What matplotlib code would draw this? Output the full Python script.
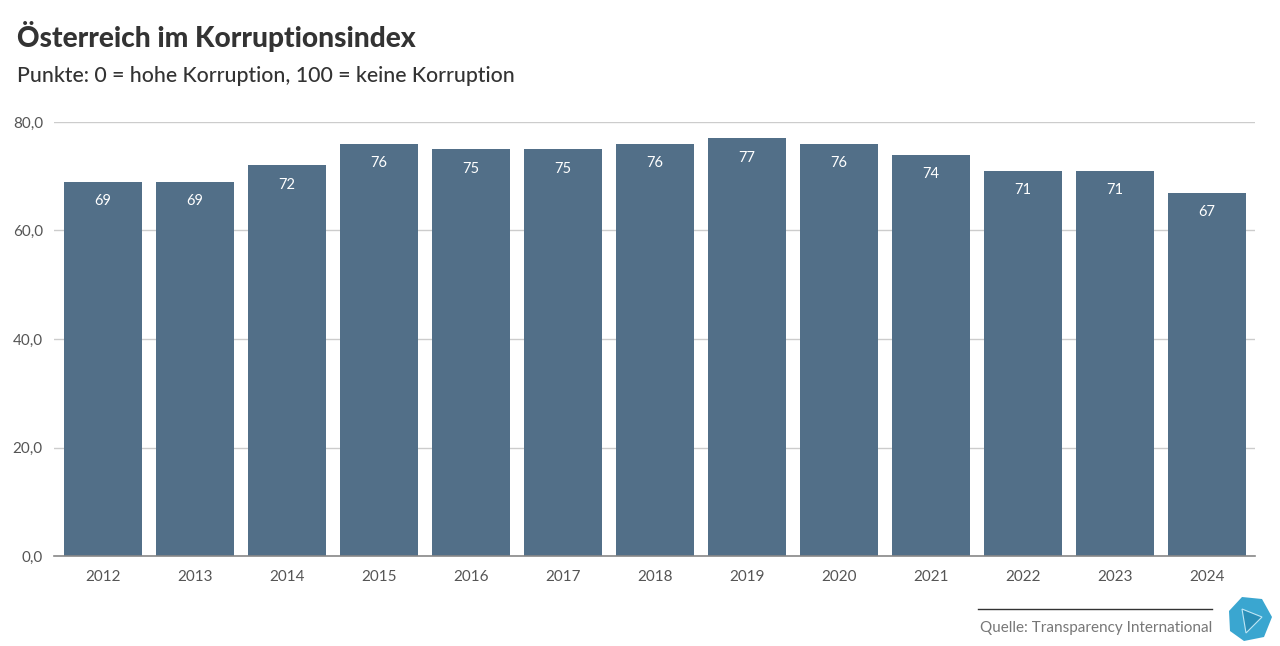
import matplotlib.pyplot as plt
from matplotlib.patches import Polygon
from matplotlib.lines import Line2D

years = ["2012", "2013", "2014", "2015", "2016", "2017", "2018",
         "2019", "2020", "2021", "2022", "2023", "2024"]
scores = [69, 69, 72, 76, 75, 75, 76, 77, 76, 74, 71, 71, 67]
yticks = [0, 20, 40, 60, 80]

plt.rcParams['font.family'] = ['Lato', 'DejaVu Sans']

fig = plt.figure(figsize=(12.8, 6.46), dpi=100)
ax = fig.add_axes([54 / 1280, 1 - 556 / 646, (1255 - 54) / 1280, (556 - 122) / 646])

x = list(range(len(years)))
bars = ax.bar(x, scores, width=0.848, color="#526f88", zorder=2)
for b, v in zip(bars, scores):
    ax.annotate(str(v), (b.get_x() + b.get_width() / 2, v), xytext=(0, -14),
                textcoords="offset points", ha="center", va="center",
                color="white", fontsize=10.5)

ax.set_xlim(-0.533, 12.52)
ax.set_ylim(0, 80)
ax.set_yticks(yticks)
ax.set_yticklabels([f"{t:.1f}".replace(".", ",") for t in yticks])
ax.set_xticks(x)
ax.set_xticklabels(years)
ax.grid(axis="y", color="#cccccc", linewidth=1, zorder=0)
for s in ["top", "right", "left"]:
    ax.spines[s].set_visible(False)
ax.spines["bottom"].set_color("#888888")
ax.spines["bottom"].set_linewidth(1.2)
ax.tick_params(axis="both", length=0, colors="#555555", labelsize=11)
ax.tick_params(axis="y", pad=8)
ax.tick_params(axis="x", pad=10)

fig.text(17 / 1280, 1 - 36 / 646, "Österreich im Korruptionsindex", fontsize=20.2,
         fontweight="black", color="#333333", va="center")
fig.text(17 / 1280, 1 - 76 / 646, "Punkte: 0 = hohe Korruption, 100 = keine Korruption",
         fontsize=15.3, fontweight="medium", color="#333333", va="center")

fig.add_artist(Line2D([978 / 1280, 1212 / 1280], [1 - 609 / 646, 1 - 609 / 646],
                      color="#333333", linewidth=1, transform=fig.transFigure))
fig.text(1212 / 1280, 1 - 628 / 646, "Quelle: Transparency International", fontsize=11,
         color="#777777", ha="right", va="center")

# logo: simple polyhedron
cx, cy = 1250, 619
hexpts = [(cx - 21, cy - 8), (cx - 8, cy - 22), (cx + 12, cy - 20), (cx + 22, cy - 2),
          (cx + 14, cy + 18), (cx - 6, cy + 22), (cx - 20, cy + 12)]
fig.add_artist(Polygon([(px / 1280, 1 - py / 646) for px, py in hexpts], closed=True,
                       facecolor="#3aa6d0", edgecolor="none", transform=fig.transFigure))
inner = [(cx - 8, cy - 10), (cx + 12, cy - 2), (cx - 4, cy + 14)]
fig.add_artist(Polygon([(px / 1280, 1 - py / 646) for px, py in inner], closed=True,
                       facecolor="#2a8fb8", edgecolor="#bfe6f5", linewidth=0.8,
                       transform=fig.transFigure))

fig.savefig("out.png", dpi=100)
